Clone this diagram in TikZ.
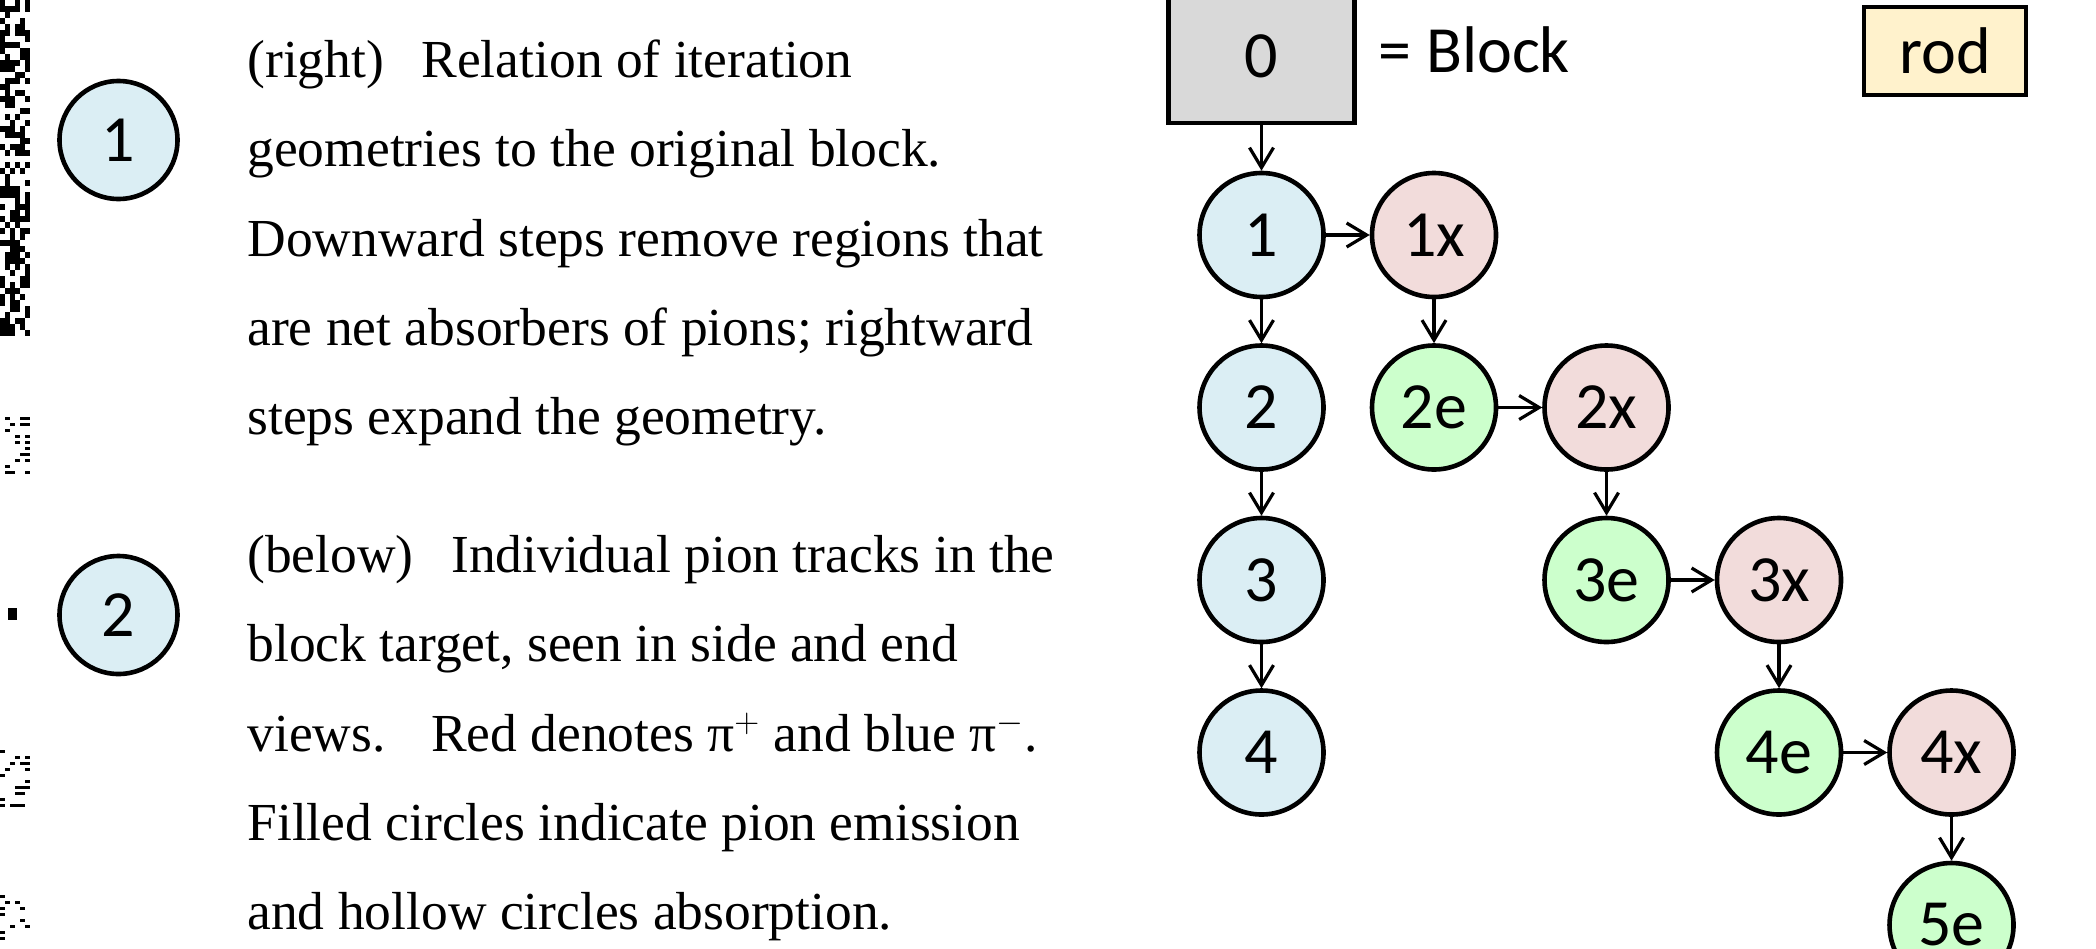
\documentclass[tikz,border=0pt]{standalone}
\usepackage{fontspec}
\setmainfont{Liberation Serif}
\newfontfamily\diagfont{Carlito}
\usetikzlibrary{arrows.meta}
\definecolor{cblue}{HTML}{DBEEF4}
\definecolor{cpink}{HTML}{F2DCDB}
\definecolor{cgreen}{HTML}{CCFFCC}
\definecolor{cgray}{HTML}{D9D9D9}
\definecolor{cyellow}{HTML}{FFF2CC}
\begin{document}
\begin{tikzpicture}[x=0.5pt,y=-0.5pt,
  gn/.style={circle,draw,line width=2.3pt,minimum size=62pt,inner sep=0pt,
    font=\diagfont\fontsize{33}{33}\selectfont},
  sn/.style={gn,minimum size=59pt},
  boxnode/.style={rectangle,draw,line width=2.3pt,inner sep=0pt,
    font=\diagfont\fontsize{33}{33}\selectfont},
  arr/.style={line width=1.6pt,-{Straight Barb[length=10pt,width=12pt]}},
  txt/.style={anchor=base west,inner sep=0pt,font=\fontsize{26.75}{30}\selectfont},
  lbl/.style={anchor=base west,inner sep=0pt,font=\diagfont\fontsize{33}{33}\selectfont}]
\useasboundingbox (0,0) rectangle (2096,948);
\clip (0,0) rectangle (2096,948);
\fill[white] (0,0) rectangle (2096,948);

% scanned noise at the left edge
\pgfmathsetseed{7}
\foreach \y in {0,6,...,330}{
  \foreach \x in {0,5,...,25}{
    \pgfmathparse{rnd}
    \ifdim\pgfmathresult pt>0.45pt \fill[black] (\x,\y) rectangle +(5,6); \fi
  }
}
\foreach \ya/\yb in {417/490,738/807,895/948}{
  \foreach \y in {\ya,...,\yb}{
    \pgfmathparse{mod(\y-\ya,6)==0 ? 1 : 0}
    \ifnum\pgfmathresult=1
      \foreach \x in {0,5,...,25}{
        \pgfmathparse{rnd}
        \ifdim\pgfmathresult pt>0.7pt \fill[black] (\x,\y) rectangle +(5,3); \fi
      }
    \fi
  }
}
\fill[black] (8,608) rectangle (17,620);

% left legend circles
\node[sn,fill=cblue] (l1) at (118.5,140) {1};
\node[sn,fill=cblue] (l2) at (118.5,615) {2};

% text
\node[txt] (a1) at (247,77) {(right)\hspace{0.7em}Relation of iteration};
\node[txt] (a2) at (247,166) {geometries to the original block.};
\node[txt] (a3) at (247,256) {Downward steps remove regions that};
\node[txt] (a4) at (247,345) {are net absorbers of pions; rightward};
\node[txt] (a5) at (247,434) {steps expand the geometry.};
\node[txt] (b1) at (247,572) {(below)\hspace{0.7em}Individual pion tracks in the};
\node[txt] (b2) at (247,661) {block target, seen in side and end};
\node[txt] (b3) at (247,751) {views.\hspace{0.85em}Red denotes π$^{+}$ and blue π$^{-}$.};
\node[txt] (b4) at (247,840) {Filled circles indicate pion emission};
\node[txt] (b5) at (247,929) {and hollow circles absorption.};

% diagram
\node[boxnode,fill=cgray,minimum width=93pt,minimum height=67pt] (b0) at (1261.5,56) {0};
\node[lbl] (blk) at (1378,72) {= Block};
\node[boxnode,fill=cyellow,minimum width=81pt,minimum height=44pt] (rod) at (1945,51) {rod};

\node[gn,fill=cblue] (n1) at (1261.5,235) {1};
\node[gn,fill=cblue] (n2) at (1261.5,407.5) {2};
\node[gn,fill=cblue] (n3) at (1261.5,580) {3};
\node[gn,fill=cblue] (n4) at (1261.5,752.5) {4};
\node[gn,fill=cpink] (n1x) at (1434,235) {1x};
\node[gn,fill=cgreen] (n2e) at (1434,407.5) {2e};
\node[gn,fill=cpink] (n2x) at (1606.5,407.5) {2x};
\node[gn,fill=cgreen] (n3e) at (1606.5,580) {3e};
\node[gn,fill=cpink] (n3x) at (1779,580) {3x};
\node[gn,fill=cgreen] (n4e) at (1779,752.5) {4e};
\node[gn,fill=cpink] (n4x) at (1951.5,752.5) {4x};
\node[gn,fill=cgreen] (n5e) at (1951.5,925) {5e};

\draw[arr] (b0) -- (n1);
\draw[arr] (n1) -- (n2);
\draw[arr] (n2) -- (n3);
\draw[arr] (n3) -- (n4);
\draw[arr] (n1) -- (n1x);
\draw[arr] (n1x) -- (n2e);
\draw[arr] (n2e) -- (n2x);
\draw[arr] (n2x) -- (n3e);
\draw[arr] (n3e) -- (n3x);
\draw[arr] (n3x) -- (n4e);
\draw[arr] (n4e) -- (n4x);
\draw[arr] (n4x) -- (n5e);
\end{tikzpicture}
\end{document}
